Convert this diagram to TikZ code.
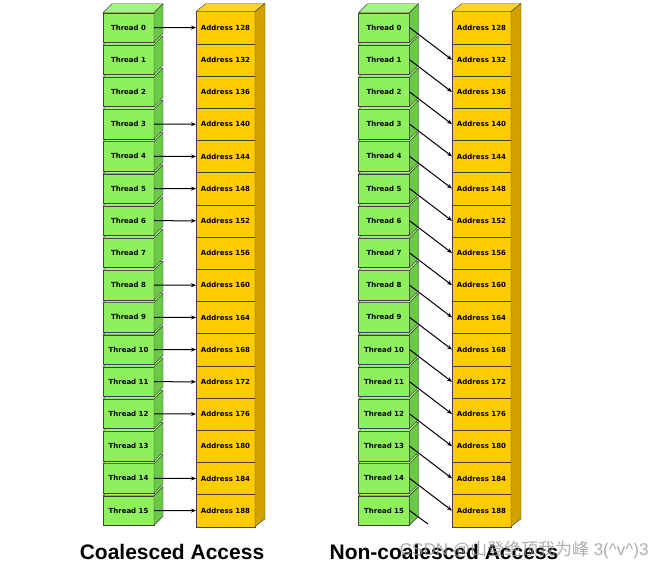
\documentclass[tikz,border=0pt]{standalone}
\usepackage{fontspec}
\setmainfont{Liberation Sans}
\newfontfamily\cellfont{DejaVu Sans}
\newfontfamily\cjk{Noto Sans CJK SC}
\usetikzlibrary{arrows.meta,positioning}
\usepackage{xcolor}

\definecolor{thrfront}{HTML}{8EF05C}
\definecolor{thrtop}{HTML}{A4F678}
\definecolor{thrside}{HTML}{6CC848}
\definecolor{adrfront}{HTML}{FFCC00}
\definecolor{adrtop}{HTML}{FFD422}
\definecolor{adrside}{HTML}{D2A300}

\begin{document}
\begin{tikzpicture}[x=1pt, y=-1pt,
        thread/.style={draw=black!75, fill=thrfront, minimum width=51pt, minimum height=29.5pt, inner sep=0pt, outer sep=0pt, font=\cellfont\fontsize{7}{8}\selectfont\bfseries},
        addr/.style={draw=black!75, fill=adrfront, minimum width=59pt, minimum height=32.2pt, inner sep=0pt, outer sep=0pt, font=\cellfont\fontsize{7}{8}\selectfont\bfseries},
        face/.style={draw=black!75, line join=round},
        arrow/.style={-{Stealth[length=5pt, width=4pt]}, line width=1pt},
        title/.style={font=\fontsize{21}{25}\selectfont\bfseries}
    ]
        \useasboundingbox (0,0) rectangle (666,570);

        % Speicherspalten (links und rechts)
        \foreach \p/\dx in {c/0, n/256} {
            \foreach \i in {0,...,15} {
                \pgfmathtruncatemacro{\adr}{128+4*\i}
                \node[addr] (\p a\i) at (225.5+\dx, 27.6+32.2*\i) {Address \adr};
            }
            \draw[face, fill=adrtop] (\p a0.north west) -- ++(10,-8) -- ++(59,0) -- (\p a0.north east) -- cycle;
            \draw[face, fill=adrside] (\p a15.south east) -- (\p a0.north east) -- ++(10,-8) -- ++(0,515.2) -- cycle;
        }

        % Threads, von unten nach oben
        \foreach \p/\dx in {c/0, n/255.5} {
            \foreach \i in {15,...,0} {
                \node[thread] (\p\i) at (128.5+\dx, 27.5+32.2*\i) {Thread \i};
                \draw[face, fill=thrtop] (\p\i.north west) -- ++(9,-9) -- ++(51,0) -- (\p\i.north east) -- cycle;
                \draw[face, fill=thrside] (\p\i.north east) -- ++(9,-9) -- ++(0,29.5) -- (\p\i.south east) -- cycle;
            }
        }

        % Coalesced: Thread i -> Address i
        \foreach \i in {0,3,4,5,6,8,9,10,11,12,14,15}
            \draw[arrow] (c\i.east) -- (ca\i.west);

        % Non-coalesced: Thread i -> Address i+1
        \foreach \i [evaluate=\i as \j using int(\i+1)] in {0,...,14}
            \draw[arrow] (n\i.east) -- (na\j.west);
        \coordinate (nend) at (428,524);
        \draw[line width=1pt] (n15.east) -- (nend);

        % Titel
        \node[title] (ctitle) at (172,552) {Coalesced Access};
        \node[title] (ntitle) at (444,552) {Non-coalesced Access};

        % Wasserzeichen
        \node[text=black!40, opacity=0.8, font=\fontsize{17}{20}\selectfont, anchor=east] (mark) at (652,550) {CSDN @{\cjk 山登绝顶我为峰} 3(\string^v\string^)3};
    \end{tikzpicture}
\end{document}
